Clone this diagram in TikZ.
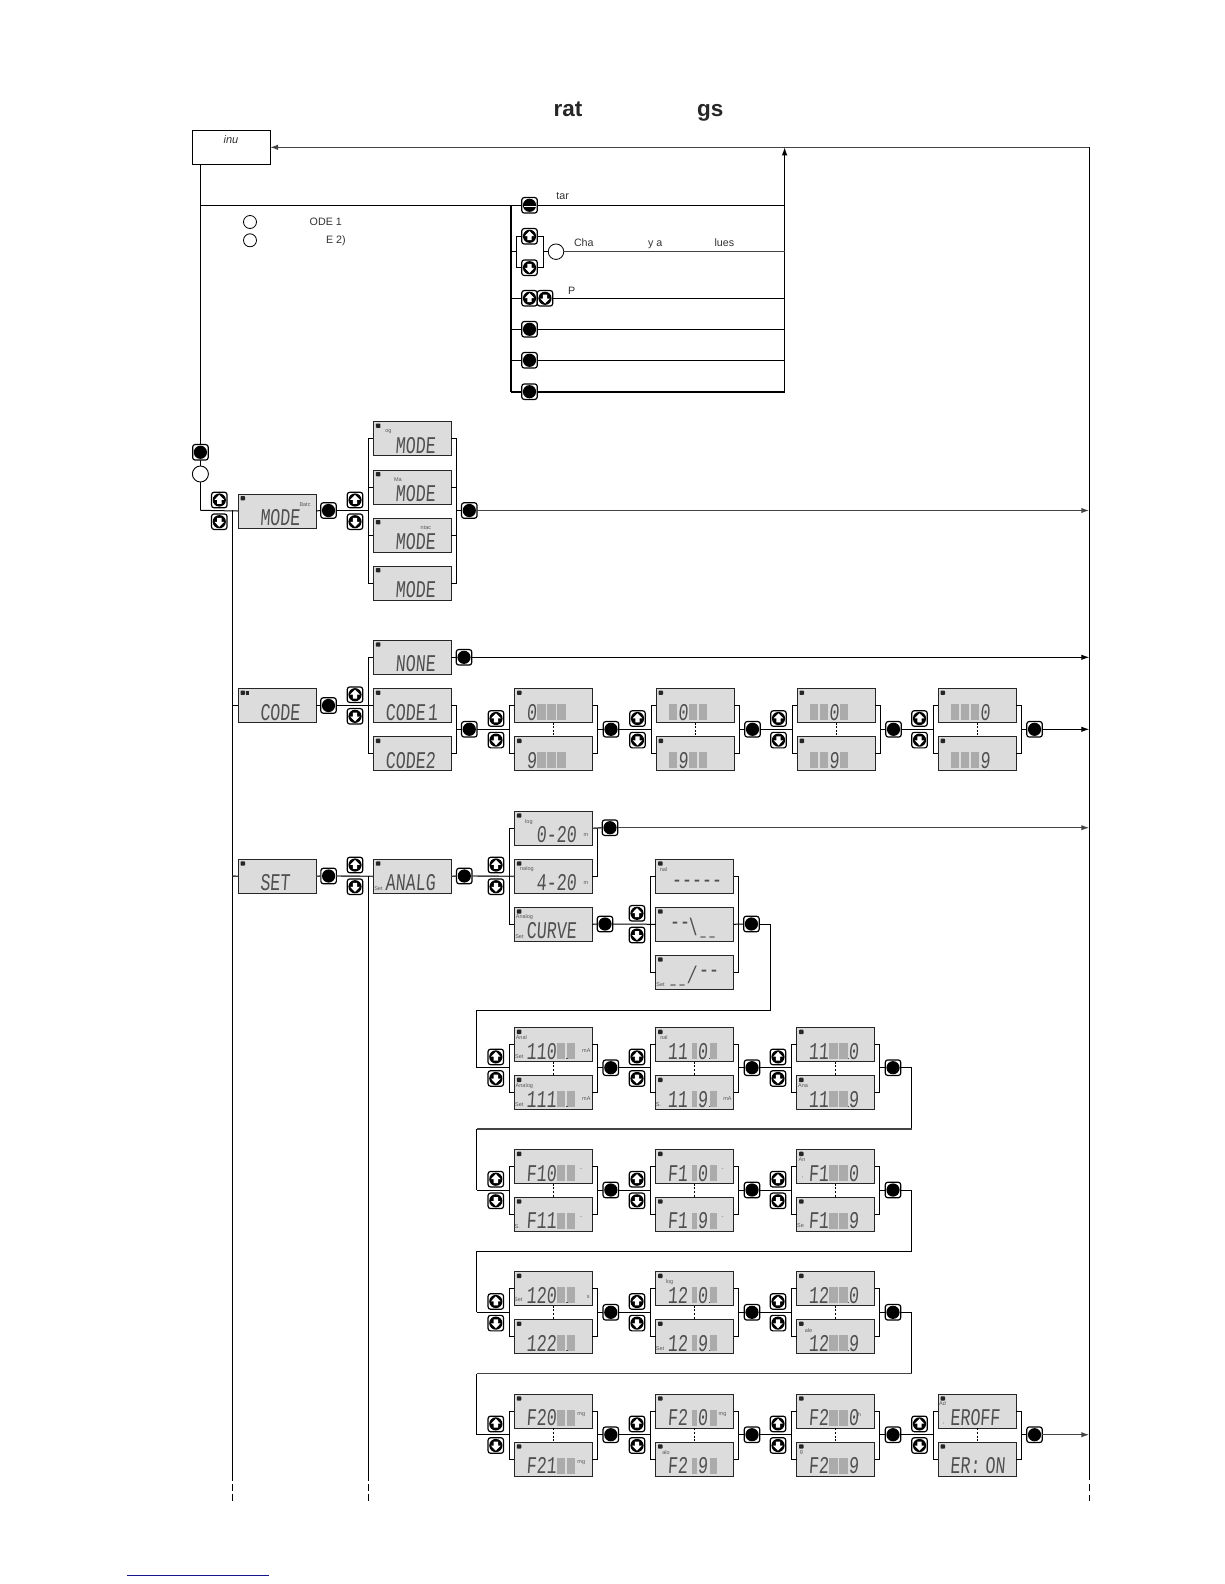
\documentclass[tikz,border=0pt]{standalone}
\usepackage{fontspec}
\usepackage{graphicx}
\usetikzlibrary{arrows.meta}
\setmainfont{Liberation Sans}
\newfontfamily\lcdf[FakeSlant=0.1]{Liberation Mono}
\definecolor{lcdbg}{HTML}{DCDCDC}
\definecolor{lcdink}{HTML}{505050}
\definecolor{blkc}{HTML}{ABABAB}
\definecolor{txtc}{HTML}{333333}
\definecolor{glinec}{HTML}{444444}
\definecolor{navyl}{HTML}{14148C}
\tikzset{
  conn/.style={line width=1pt,black},
  gconn/.style={line width=1.4pt,glinec},
  thickconn/.style={line width=1.6pt,black},
  tip/.style={-{Latex[length=8pt,width=5.5pt]}},
  lcdbox/.style={draw=black!85,line width=.9pt,fill=lcdbg,minimum width=78pt,minimum height=34pt,inner sep=0pt,outer sep=0pt},
  lcdt/.style={anchor=base west,inner sep=0pt,outer sep=0pt,text=lcdink,font=\lcdf\fontsize{24}{24}\selectfont},
  tinyl/.style={inner sep=0pt,outer sep=0pt,text=black!65,font=\fontsize{5.5}{6}\selectfont},
  plain/.style={anchor=base west,inner sep=0pt,outer sep=0pt,text=txtc,font=\fontsize{10.7}{12}\selectfont},
  titlet/.style={anchor=base west,inner sep=0pt,outer sep=0pt,text=black!85,font=\bfseries\fontsize{22.5}{24}\selectfont},
  keybase/.style={draw=black,line width=1.2pt,fill=white,rounded corners=2.5pt,minimum width=15.5pt,minimum height=15.5pt,inner sep=0pt,outer sep=0pt},
  keydot/.style={keybase,path picture={\fill[black] (path picture bounding box.center) circle (6.6pt);}},
  keyup/.style={keybase,path picture={\fill[black] (path picture bounding box.center) circle (6.6pt);
     \begin{scope}[shift={(path picture bounding box.center)},sharp corners]\fill[white] (0,-5.2)--(4.8,-.2)--(2.2,-.2)--(2.2,3.8)--(-2.2,3.8)--(-2.2,-.2)--(-4.8,-.2)--cycle;\end{scope}}},
  keydn/.style={keybase,path picture={\fill[black] (path picture bounding box.center) circle (6.6pt);
     \begin{scope}[shift={(path picture bounding box.center)},sharp corners]\fill[white] (0,5.2)--(4.8,.2)--(2.2,.2)--(2.2,-3.8)--(-2.2,-3.8)--(-2.2,.2)--(-4.8,.2)--cycle;\end{scope}}},
  keymin/.style={keybase,path picture={\fill[black] (path picture bounding box.center) circle (6.6pt);
     \begin{scope}[shift={(path picture bounding box.center)},sharp corners]\fill[white] (-6,.2) rectangle (6,1.8);\end{scope}}},
  radio/.style={circle,draw=black,line width=.8pt,fill=white,minimum size=13pt,inner sep=0pt,outer sep=0pt},
  bigradio/.style={circle,draw=black,line width=.9pt,fill=white,minimum size=16pt,inner sep=0pt,outer sep=0pt},
}
\newcounter{nn}
\newcommand\seg[2]{\stepcounter{nn}\node[lcdt] (t\thenn) at (12+10*#1,31.5) {\scalebox{.694}[1]{#2}};}
\newcommand\segy[3]{\stepcounter{nn}\node[lcdt] (t\thenn) at (#1,31.5+#2) {\scalebox{.694}[1]{#3}};}
\newcommand\usc[1]{\stepcounter{nn}\node[lcdt] (t\thenn) at (#1,28) {\scalebox{.36}[1]{\_}};}
\newcommand\blk[1]{\fill[blkc] (12.6+10*#1,15.5) rectangle ++(8.4,16);}
\newcommand\blkn{\fill[blkc] (36,15.5) rectangle (41,31.5);}
\newcommand\blke{\fill[blkc] (54,15.5) rectangle (61,31.5);}
\newcommand\dt[1]{\fill[lcdink] (#1,30) rectangle ++(1.5,1.5);}
\newcommand\lab[3]{\stepcounter{nn}\node[tinyl] (t\thenn) at (#1,#2) {#3};}
\newcommand\lcd[4]{%
  \node[lcdbox] (#1) at (#2+39,#3+17) {};
  \begin{scope}[shift={(#2,#3)}]
    \fill[black!85,rounded corners=.8pt] (2.5,2) rectangle (7,6.4);
    #4
  \end{scope}}
% id, previous node's exit, left of displays, centre line
\newcommand\stage[4]{%
  \node[keyup] (#1u) at (#3-18.5,#4-10.8) {};
  \node[keydn] (#1d) at (#3-18.5,#4+10.8) {};
  \coordinate (#1i) at (#3-5,#4);
  \coordinate (#1o) at (#3+83,#4);
  \node[keydot] (#1k) at (#3+96.5,#4) {};
  \draw[conn] (#1a.west) -- ++(-5,0) |- (#1b.west);
  \draw[conn] (#1a.east) -- ++(5,0) |- (#1b.east);
  \draw[conn] (#2) -- (#1i);
  \draw[conn] (#1o) -- (#1k.west);
  \draw[line width=.8pt,black,dash pattern=on 2pt off 1.6pt] (#1a.south) -- (#1b.north);
}
\begin{document}
\begin{tikzpicture}[x=1pt,y=-1pt]
\useasboundingbox (0,0) rectangle (1224,1584);
\fill[white] (0,0) rectangle (1224,1584);

% ---- title
\node[titlet] (ttl1) at (553.7,117) {rat};
\node[titlet] (ttl2) at (697,117) {gs};

% ---- top block
\node[draw=black,line width=1pt,minimum width=78pt,minimum height=34.3pt,inner sep=0pt,outer sep=0pt] (inu) at (231,147.3) {};
\node[plain,anchor=center,font=\itshape\fontsize{11}{12}\selectfont] (inut) at (231,140) {inu};
\coordinate (tr) at (1089.3,147.3);
\coordinate (vt) at (784.6,147.3);
\coordinate (vb) at (784.6,391.7);
\coordinate (rb) at (1089.3,1480);
\coordinate (rd1) at (1089.3,1484);
\coordinate (rd2) at (1089.3,1491);
\coordinate (rd3) at (1089.3,1494.5);
\coordinate (rd4) at (1089.3,1501);
\draw[gconn,tip] (tr) -- (inu.east);
\draw[conn] (tr) -- (rb);
\draw[conn] (rd1) -- (rd2);
\draw[conn] (rd3) -- (rd4);
\draw[conn,tip] (vb) -- (vt);

\coordinate (a0) at (200.4,164.3);
\coordinate (a1) at (200.4,205.3);
\coordinate (ta) at (511,205.3);
\coordinate (tb) at (511,391.7);
\draw[thickconn] (ta) -- (tb);
\draw[conn] (a1) -- (784.6,205.3);
\node[keymin] (k1) at (529.5,205.3) {};
\node[keyup] (k2u) at (529.5,236.3) {};
\node[keydn] (k2d) at (529.5,267.7) {};
\coordinate (sq1) at (516.5,236.3);
\coordinate (sq2) at (543,267.7);
\draw[conn] (k2u.west) -- (sq1) |- (k2d.west);
\draw[conn] (k2u.east) -| (sq2) -- (k2d.east);
\coordinate (m2l) at (511,251.7);
\coordinate (m2m) at (516.5,251.7);
\coordinate (m2r) at (543,251.7);
\node[radio,minimum size=15.5pt] (c2) at (556,251.7) {};
\draw[conn] (m2l) -- (m2m);
\draw[conn] (m2r) -- (c2.west);
\coordinate (m2e) at (784.6,251.7);
\draw[gconn] (c2.east) -- (m2e);
\coordinate (b3) at (511,298.3);
\coordinate (e3) at (784.6,298.3);
\draw[conn] (b3) -- (e3);
\node[keyup] (k3u) at (529.5,298.3) {};
\node[keydn] (k3d) at (545,298.3) {};
\coordinate (b4) at (511,329.3);
\coordinate (e4) at (784.6,329.3);
\draw[conn] (b4) -- (e4);
\node[keydot] (k4) at (529.5,329.3) {};
\coordinate (b5) at (511,360.3);
\coordinate (e5) at (784.6,360.3);
\draw[conn] (b5) -- (e5);
\node[keydot] (k5) at (529.5,360.3) {};
\draw[thickconn] (tb) -- (vb);
\node[keydot] (k6) at (529.5,391.7) {};

\node[radio] (r1) at (250,222) {};
\node[radio] (r2) at (250,240.3) {};
\node[plain] (l1) at (309.7,225) {ODE 1};
\node[plain] (l2) at (326,243) {E 2)};
\node[plain] (l3) at (556.4,199) {tar};
\node[plain] (l4) at (574,246) {Cha};
\node[plain] (l5) at (648,246) {y a};
\node[plain] (l6) at (714.6,246) {lues};
\node[plain] (l7) at (568,294) {P};

% ---- MODE
\coordinate (j0) at (200.4,510.3);
\coordinate (j1) at (232.5,510.3);
\coordinate (d1) at (232.5,1481);
\coordinate (d2) at (232.5,1484);
\coordinate (d3) at (232.5,1491);
\coordinate (d4) at (232.5,1494);
\coordinate (d5) at (232.5,1501);
\draw[conn] (a0) -- (j0);
\draw[conn] (j1) -- (d1);
\draw[conn] (d2) -- (d3);
\draw[conn] (d4) -- (d5);
\node[keydot] (kk) at (200.4,452.3) {};
\node[bigradio] (cc) at (200.4,474) {};
\node[keyup] (mu0) at (219.3,500) {};
\node[keydn] (md0) at (219.3,521.7) {};
\lcd{mode}{238}{494}{\seg{1}{MODE}\lab{67}{10.7}{Batc}}
\draw[conn] (j0) -- (mode.west);
\node[keydot] (mk1) at (328.5,510.5) {};
\draw[conn] (mode.east) -- (mk1.west);
\node[keyup] (mu1) at (355,500) {};
\node[keydn] (md1) at (355,521.7) {};
\lcd{m1}{373.4}{421.5}{\seg{1}{MODE}\lab{15}{10}{og}}
\lcd{m2}{373.4}{470}{\seg{1}{MODE}\lab{24.5}{10}{Ma}}
\lcd{m3}{373.4}{518}{\seg{1}{MODE}\lab{52.5}{10}{ntac}}
\lcd{m4}{373.4}{566}{\seg{1}{MODE}}
\coordinate (mb) at (368.3,510.5);
\draw[conn] (mk1.east) -- (mb);
\draw[conn] (m1.west) -- ++(-5,0) |- (m4.west);
\draw[conn] (m2.west) -- ++(-5,0);
\draw[conn] (m3.west) -- ++(-5,0);
\draw[conn] (m1.east) -- ++(5,0) |- (m4.east);
\draw[conn] (m2.east) -- ++(5,0);
\draw[conn] (m3.east) -- ++(5,0);
\node[keydot] (mk2) at (469.3,510.5) {};
\coordinate (mo) at (456.4,510.5);
\coordinate (mr) at (1089.3,510.5);
\draw[conn] (mo) -- (mk2.west);
\draw[gconn,tip] (mk2.east) -- (mr);

% ---- CODE
\lcd{code}{238}{688.5}{\fill[black!85] (7.8,2) rectangle (10.6,6.4);\seg{1}{CODE}}
\coordinate (cj) at (232.5,705.5);
\draw[conn] (cj) -- (code.west);
\node[keydot] (ck1) at (328.5,705.5) {};
\draw[conn] (code.east) -- (ck1.west);
\node[keyup] (cu1) at (355,694.7) {};
\node[keydn] (cd1) at (355,716.3) {};
\lcd{cn}{373.4}{640.3}{\seg{1}{NONE}}
\lcd{c1}{373.4}{688.5}{\seg{0}{CODE\ \kern-11pt 1}}
\lcd{c2}{373.4}{736.7}{\seg{0}{CODE2}}
\coordinate (cb) at (368.3,705.5);
\draw[conn] (ck1.east) -- (c1.west);
\draw[conn] (cn.west) -- ++(-5,0) |- (c2.west);
\node[keydot] (ck2) at (464,657.3) {};
\coordinate (cr) at (1089.3,657.3);
\draw[conn] (cn.east) -- (ck2.west);
\draw[conn,tip] (ck2.east) -- (cr);
\draw[conn] (c1.east) -- ++(5,0) |- (c2.east);
\coordinate (co) at (456.4,729.3);
\node[keydot] (ck3) at (469.3,729.3) {};
\draw[conn] (co) -- (ck3.west);
\lcd{caa}{514.5}{688.5}{\seg{0}{0}\blk{1}\blk{2}\blk{3}}
\lcd{cab}{514.5}{736.7}{\seg{0}{9}\blk{1}\blk{2}\blk{3}}
\stage{ca}{ck3.east}{514.5}{729.3}
\lcd{cba}{656}{688.5}{\blk{0}\seg{1}{0}\blk{2}\blk{3}}
\lcd{cbb}{656}{736.7}{\blk{0}\seg{1}{9}\blk{2}\blk{3}}
\stage{cb}{cak.east}{656}{729.3}
\lcd{cca}{797}{688.5}{\blk{0}\blk{1}\seg{2}{0}\blk{3}}
\lcd{ccb}{797}{736.7}{\blk{0}\blk{1}\seg{2}{9}\blk{3}}
\stage{cc}{cbk.east}{797}{729.3}
\lcd{cda}{938}{688.5}{\blk{0}\blk{1}\blk{2}\seg{3}{0}}
\lcd{cdb}{938}{736.7}{\blk{0}\blk{1}\blk{2}\seg{3}{9}}
\stage{cd}{cck.east}{938}{729.3}
\coordinate (cr2) at (1089.3,729.3);
\draw[conn,tip] (cdk.east) -- (cr2);

% ---- SET
\coordinate (sj) at (232.5,876);
\lcd{set}{238}{859.3}{\seg{1}{SET}}
\draw[gconn] (sj) -- (set.west);
\node[keydot] (sk1) at (328.6,876) {};
\draw[gconn] (set.east) -- (sk1.west);
\node[keyup] (su1) at (355,865) {};
\node[keydn] (sd1) at (355,886.7) {};
\lcd{ana}{373.4}{859.3}{\seg{0}{ANALG}\lab{5}{29}{Set}}
\draw[gconn] (sk1.east) -- (ana.west);
\coordinate (s2) at (368.3,876);
\coordinate (s3) at (368.3,1481);
\coordinate (s4) at (368.3,1484);
\coordinate (s5) at (368.3,1491);
\coordinate (s6) at (368.3,1494);
\coordinate (s7) at (368.3,1501);
\draw[conn] (s2) -- (s3);
\draw[conn] (s4) -- (s5);
\draw[conn] (s6) -- (s7);
\node[keydot] (sk2) at (464.3,876) {};
\draw[gconn] (ana.east) -- (sk2.west);
\node[keyup] (su2) at (496,865) {};
\node[keydn] (sd2) at (496,886.7) {};
\lcd{a1}{514.4}{811.3}{\seg{1}{0-20}\lab{14.5}{10.3}{log}\lab{71.4}{24}{m}}
\lcd{a2}{514.4}{859.3}{\seg{1}{4-20}\lab{12.5}{10}{nalog}\lab{71.4}{24}{m}}
\lcd{a3}{514.4}{907.3}{\seg{0}{CURVE}\lab{10}{10}{Analog}\lab{5}{29}{Set}}
\draw[gconn] (sk2.east) -- (a2.west);
\draw[conn] (a1.west) -- ++(-5,0) |- (a3.west);
\draw[conn] (a1.east) -- ++(5,0) |- (a2.east);
\node[keydot] (sk3) at (610,827.7) {};
\coordinate (sr) at (1089.3,827.7);
\draw[gconn] (a1.east) -- (sk3.west);
\draw[gconn,tip] (sk3.east) -- (sr);
\node[keydot] (sk4) at (605,924) {};
\draw[conn] (a3.east) -- (sk4.west);
\node[keyup] (su3) at (637,913.3) {};
\node[keydn] (sd3) at (637,935) {};
\lcd{b1}{655.6}{859.3}{\segy{16}{-3}{-{}-{}-{}-{}-}\lab{8}{10}{nal}}
\lcd{b2}{655.6}{907.3}{\segy{14}{-9}{-{}-}\segy{32}{-3}{\textbackslash}\usc{45}\usc{54}}
\lcd{b3}{655.6}{955.3}{\usc{15}\usc{24}\segy{31}{-3}{/}\segy{43}{-9}{-{}-}\lab{5}{29}{Set}}
\draw[conn] (sk4.east) -- (b2.west);
\draw[conn] (b1.west) -- ++(-5,0) |- (b3.west);
\draw[conn] (b1.east) -- ++(5,0) |- (b3.east);
\node[keydot] (sk5) at (751.4,924) {};
\draw[conn] (b2.east) -- (sk5.west);
\coordinate (x1) at (770.4,1010);
\coordinate (x2) at (476.5,1010);
\draw[conn] (sk5.east) -| (x1) -- (x2);

% ---- row 1
\lcd{raa}{514.3}{1027.7}{\seg{0}{110}\blk{3}\blk{4}\dt{52}\lab{7}{10}{Anal}\lab{5}{29}{Set}\lab{72}{23.3}{mA}}
\lcd{rab}{514.3}{1075.7}{\seg{0}{111}\blk{3}\blk{4}\dt{52}\lab{10}{10}{Analog}\lab{5}{29}{Set}\lab{72}{23.3}{mA}}
\stage{ra}{x2 |- 0,1067.7}{514.3}{1067.7}
\draw[conn] (x2) -- (x2 |- 0,1067.7);
\lcd{rba}{655.5}{1027.7}{\seg{0}{11}\blkn\seg{3}{0}\blke\dt{53}\lab{8.5}{10}{nal}}
\lcd{rbb}{655.5}{1075.7}{\seg{0}{11}\blkn\seg{3}{9}\blke\dt{53}\lab{3}{29}{S.}\lab{72}{23.3}{mA}}
\stage{rb}{rak.east}{655.5}{1067.7}
\lcd{rca}{796.5}{1027.7}{\seg{0}{11}\blk{2}\blk{3}\dt{51}\seg{4}{0}}
\lcd{rcb}{796.5}{1075.7}{\seg{0}{11}\blk{2}\blk{3}\dt{51}\seg{4}{9}\lab{6.5}{10}{Ana}}
\stage{rc}{rbk.east}{796.5}{1067.7}
\coordinate (y1) at (911.7,1129);
\coordinate (y2) at (476.5,1129);
\draw[conn] (rck.east) -| (y1);
\draw[gconn] (y1) -- (y2);

% ---- row 2
\lcd{saa}{514.3}{1149.7}{\seg{0}{F10}\blk{3}\blk{4}\lab{67}{20}{-}}
\lcd{sab}{514.3}{1197.3}{\seg{0}{F11}\blk{3}\blk{4}\lab{67}{20}{-}\lab{3}{29}{S.}}
\stage{sa}{y2 |- 0,1190}{514.3}{1190}
\draw[conn] (y2) -- (y2 |- 0,1190);
\lcd{sba}{655.5}{1149.7}{\seg{0}{F1}\blkn\seg{3}{0}\blke\lab{67}{20}{-}}
\lcd{sbb}{655.5}{1197.3}{\seg{0}{F1}\blkn\seg{3}{9}\blke\lab{67}{20}{-}}
\stage{sb}{sak.east}{655.5}{1190}
\lcd{sca}{796.5}{1149.7}{\seg{0}{F1}\blk{2}\blk{3}\seg{4}{0}\lab{5.5}{10}{An}\lab{6}{28}{,}}
\lcd{scb}{796.5}{1197.3}{\seg{0}{F1}\blk{2}\blk{3}\seg{4}{9}\lab{4}{28}{Se}}
\stage{sc}{sbk.east}{796.5}{1190}
\coordinate (z1) at (911.7,1251);
\coordinate (z2) at (476.5,1251);
\draw[conn] (sck.east) -| (z1) -- (z2);

% ---- row 3
\lcd{taa}{514.3}{1271.7}{\seg{0}{120}\blk{3}\blk{4}\dt{52}\lab{4}{28}{Set}\lab{74}{25}{s}}
\lcd{tab}{514.3}{1319.5}{\seg{0}{122}\blk{3}\blk{4}\dt{52}}
\stage{ta}{z2 |- 0,1312.3}{514.3}{1312.3}
\draw[conn] (z2) -- (z2 |- 0,1312.3);
\lcd{tba}{655.5}{1271.7}{\seg{0}{12}\blkn\seg{3}{0}\blke\dt{53}\lab{14}{10}{log}}
\lcd{tbb}{655.5}{1319.5}{\seg{0}{12}\blkn\seg{3}{9}\blke\dt{53}\lab{4.5}{29}{Set}}
\stage{tb}{tak.east}{655.5}{1312.3}
\lcd{tca}{796.5}{1271.7}{\seg{0}{12}\blk{2}\blk{3}\dt{51}\seg{4}{0}}
\lcd{tcb}{796.5}{1319.5}{\seg{0}{12}\blk{2}\blk{3}\dt{51}\seg{4}{9}\lab{12}{11}{ale}}
\stage{tc}{tbk.east}{796.5}{1312.3}
\coordinate (w1) at (911.7,1373.7);
\coordinate (w2) at (476.5,1373.7);
\draw[conn] (tck.east) -| (w1);
\draw[gconn] (w1) -- (w2);

% ---- row 4
\lcd{uaa}{514.3}{1394.3}{\seg{0}{F20}\blk{3}\blk{4}\lab{67}{20}{mg}}
\lcd{uab}{514.3}{1442.3}{\seg{0}{F21}\blk{3}\blk{4}\lab{67}{20}{mg}}
\stage{ua}{w2 |- 0,1434.7}{514.3}{1434.7}
\draw[conn] (w2) -- (w2 |- 0,1434.7);
\lcd{uba}{655.5}{1394.3}{\seg{0}{F2}\blkn\seg{3}{0}\blke\lab{67}{20}{mg}}
\lcd{ubb}{655.5}{1442.3}{\seg{0}{F2}\blkn\seg{3}{9}\blke\lab{10.5}{10}{alo}}
\stage{ub}{uak.east}{655.5}{1434.7}
\lcd{uca}{796.5}{1394.3}{\seg{0}{F2}\blk{2}\blk{3}\seg{4}{0}\lab{63}{20}{h}}
\lcd{ucb}{796.5}{1442.3}{\seg{0}{F2}\blk{2}\blk{3}\seg{4}{9}\lab{5}{10}{g}}
\stage{uc}{ubk.east}{796.5}{1434.7}
\lcd{uda}{938}{1394.3}{\seg{0}{EROFF}\lab{4.5}{9}{Ad}\lab{6}{29}{,}}
\lcd{udb}{938}{1442.3}{\seg{0}{ER:\ \kern-7pt ON}}
\stage{ud}{uck.east}{938}{1434.7}
\coordinate (ur) at (1089.3,1434.7);
\draw[gconn,tip] (udk.east) -- (ur);

% ---- footnote rule
\coordinate (f1) at (127.3,1575.3);
\coordinate (f2) at (269,1575.3);
\draw[line width=1pt,navyl] (f1) -- (f2);
\end{tikzpicture}
\end{document}
